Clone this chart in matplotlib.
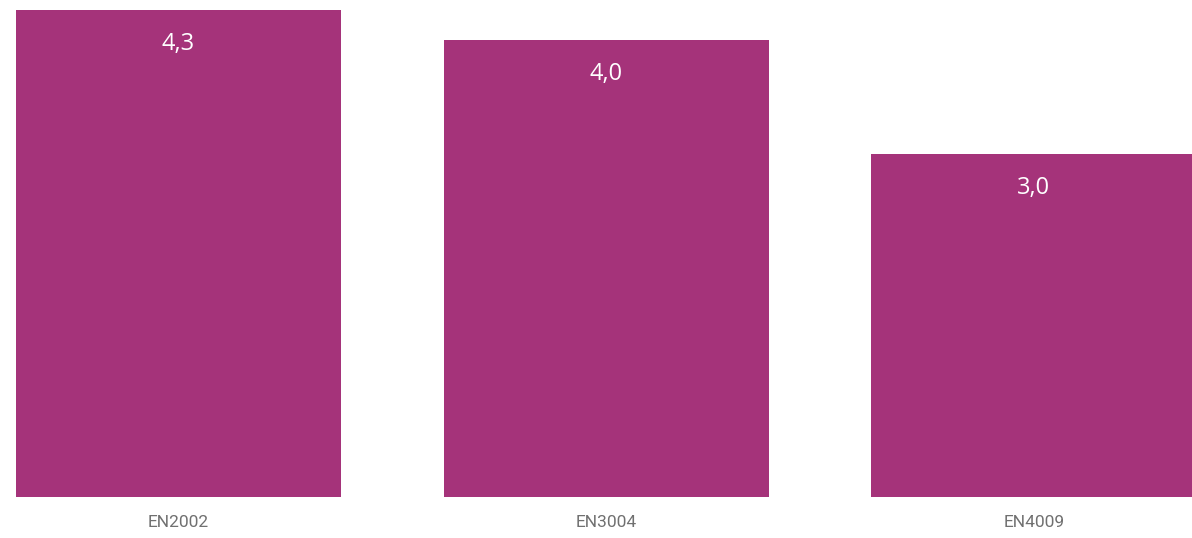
import matplotlib.pyplot as plt

# data
categories = ["EN2002", "EN3004", "EN4009"]
values = [4.26, 4.0, 3.0]

bar_color = "#A5337A"

fig = plt.figure(figsize=(11.92, 5.38), dpi=100)
ax = fig.add_axes([16 / 1192, 41 / 538, 1 - 16 / 1192, 1 - 41 / 538])

x = range(len(categories))
bars = ax.bar(x, values, width=0.76, color=bar_color)

ax.set_xlim(-0.38, 2.37)
ax.set_ylim(0, 4.35)

# value labels inside top of each bar
for rect, v in zip(bars, values):
    label = f"{v:.1f}".replace(".", ",")
    ax.annotate(label, (rect.get_x() + rect.get_width() / 2, rect.get_height()),
                xytext=(0, -34), textcoords="offset pixels",
                ha="center", va="center", color="white",
                fontsize=17, family=["Open Sans", "DejaVu Sans"])

ax.set_xticks(list(x))
ax.set_xticklabels(categories, family=["Roboto", "DejaVu Sans"],
                   fontsize=12.5, color="#707070")
ax.tick_params(axis="x", length=0, pad=13)
ax.set_yticks([])
for s in ax.spines.values():
    s.set_visible(False)

fig.savefig("out.png", dpi=100)
